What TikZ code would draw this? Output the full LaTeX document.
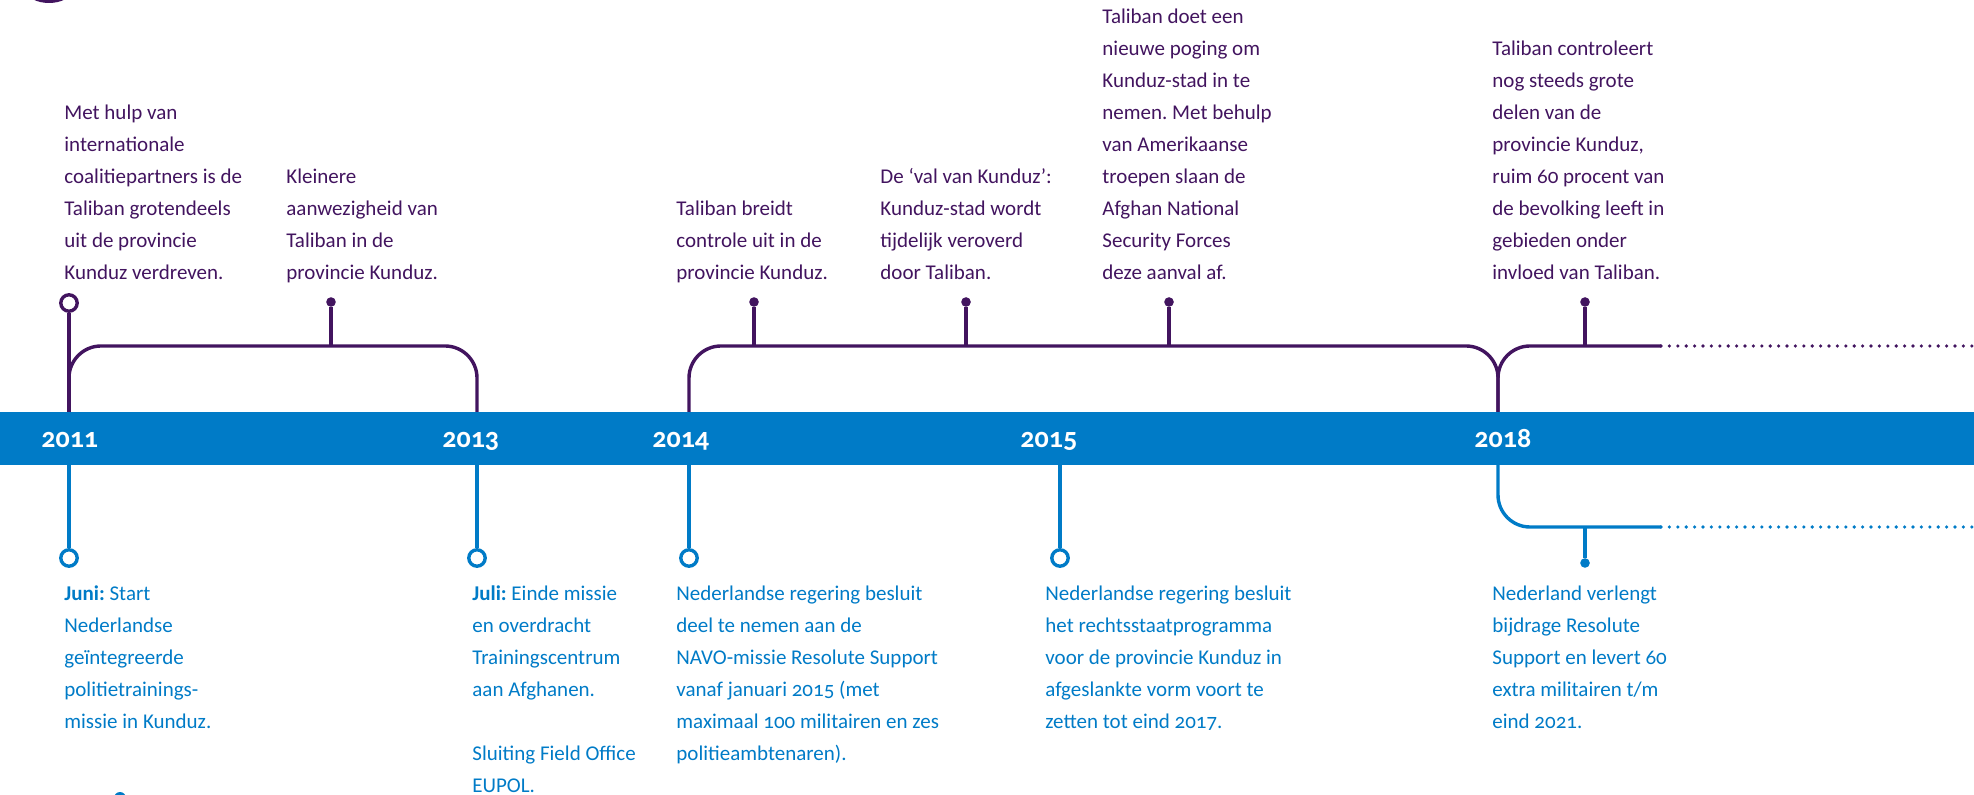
\documentclass[tikz,border=0pt]{standalone}
\usepackage{fontspec}
\setmainfont{Carlito}[Numbers=OldStyle]
\frenchspacing
\definecolor{rvblue}{HTML}{007BC7}
\definecolor{rvpurple}{HTML}{42145F}
\tikzset{
  events/.style={font=\fontsize{10.5}{16}\selectfont, anchor=base west, align=left, inner sep=0pt},
  topevent/.style={events, text=rvpurple},
  lowevent/.style={events, text=rvblue},
  yearlabel/.style={font=\fontsize{14}{16}\selectfont\bfseries, text=white, anchor=base west, inner sep=0pt},
  topline/.style={draw=rvpurple, line width=1.7pt},
  lowline/.style={draw=rvblue, line width=1.7pt},
  ringdot/.style={circle, draw=#1, fill=white, line width=1.7pt, minimum size=8.2pt, inner sep=0pt},
  tickdot/.style={circle, fill=#1, minimum size=4.8pt, inner sep=0pt},
  dotline/.style={line cap=round, dash pattern=on 0pt off 4.2pt, line width=1.8pt},
}
\begin{document}
\begin{tikzpicture}[x=0.5pt, y=-0.5pt]
	\useasboundingbox (0,0) rectangle (1974,795);
	\fill[rvpurple] (49,-10) ellipse [x radius=23, y radius=13];
	\fill[rvblue] (120,798) circle [radius=6];
	\fill[rvblue] (0,412) rectangle (1974,465);

	\node[yearlabel] (y2011) at (41,448) {2011};
	\node[yearlabel] (y2013) at (442,448) {2013};
	\node[yearlabel] (y2014) at (652,448) {2014};
	\node[yearlabel] (y2015) at (1020,448) {2015};
	\node[yearlabel] (y2018) at (1474,448) {2018};

	\coordinate (a2011) at (69,412);
	\coordinate (a2013) at (477,412);
	\coordinate (a2014) at (689,412);
	\coordinate (a2018) at (1498,412);
	\coordinate (z2011) at (69,465);
	\coordinate (z2013) at (477,465);
	\coordinate (z2014) at (689,465);
	\coordinate (z2015) at (1060,465);
	\coordinate (z2018) at (1498,465);

	\coordinate (k2012) at (331,346);
	\coordinate (k2014) at (754,346);
	\coordinate (k2015a) at (966,346);
	\coordinate (k2015b) at (1169,346);
	\coordinate (k2018) at (1585,346);
	\coordinate (e2018) at (1661,346);
	\coordinate (f2018) at (1980,346);
	\coordinate (m2018) at (1585,527);
	\coordinate (g2018) at (1661,527);
	\coordinate (h2018) at (1980,527);

	\node[ringdot=rvpurple] (r2011) at (69,303) {};
	\node[tickdot=rvpurple] (p2012) at (331,302) {};
	\node[tickdot=rvpurple] (p2014) at (754,302) {};
	\node[tickdot=rvpurple] (p2015a) at (966,302) {};
	\node[tickdot=rvpurple] (p2015b) at (1169,302) {};
	\node[tickdot=rvpurple] (p2018) at (1585,302) {};

	\node[ringdot=rvblue] (o2011) at (69,558) {};
	\node[ringdot=rvblue] (o2013) at (477,558) {};
	\node[ringdot=rvblue] (o2014) at (689,558) {};
	\node[ringdot=rvblue] (o2015) at (1060,558) {};
	\node[tickdot=rvblue] (q2018) at (1585,563) {};

	\node[topevent] (t2011) at (64,280) {Met hulp van\\internationale\\coalitiepartners is de\\Taliban grotendeels\\uit de provincie\\Kunduz verdreven.};
	\node[topevent] (t2012) at (286,280) {Kleinere\\aanwezigheid van\\Taliban in de\\provincie Kunduz.};
	\node[topevent] (t2014) at (676,280) {Taliban breidt\\controle uit in de\\provincie Kunduz.};
	\node[topevent] (t2015a) at (880,280) {De ‘val van Kunduz’:\\Kunduz-stad wordt\\tijdelijk veroverd\\door Taliban.};
	\node[topevent] (t2015b) at (1102,280) {Taliban doet een\\nieuwe poging om\\Kunduz-stad in te\\nemen. Met behulp\\van Amerikaanse\\troepen slaan de\\Afghan National\\Security Forces\\deze aanval af.};
	\node[topevent] (t2018) at (1492,280) {Taliban controleert\\nog steeds grote\\delen van de\\provincie Kunduz,\\ruim 60 procent van\\de bevolking leeft in\\gebieden onder\\invloed van Taliban.};

	\node[lowevent] (b2011) at (64,728) {\textbf{Juni:} Start\\Nederlandse\\geïntegreerde\\politietrainings-\\missie in Kunduz.};
	\node[lowevent] (b2013) at (472,792) {\textbf{Juli:} Einde missie\\en overdracht\\Trainingscentrum\\aan Afghanen.\\[16pt]Sluiting Field Office\\EUPOL.};
	\node[lowevent] (b2014) at (676,760) {Nederlandse regering besluit\\deel te nemen aan de\\NAVO-missie Resolute Support\\vanaf januari 2015 (met\\maximaal 100 militairen en zes\\politieambtenaren).};
	\node[lowevent] (b2015) at (1045,728) {Nederlandse regering besluit\\het rechtsstaatprogramma\\voor de provincie Kunduz in\\afgeslankte vorm voort te\\zetten tot eind 2017.};
	\node[lowevent] (b2018) at (1492,728) {Nederland verlengt\\bijdrage Resolute\\Support en levert 60\\extra militairen t/m\\eind 2021.};

	\path[topline] (r2011) edge (a2011)
	(p2012) edge (k2012)
	(p2014) edge (k2014)
	(p2015a) edge (k2015a)
	(p2015b) edge (k2015b)
	(p2018) edge (k2018);
	\draw[topline, rounded corners=16pt] (a2011) |- (k2012) -| (a2013);
	\draw[topline, rounded corners=16pt] (a2014) |- (k2014) -- (k2015a) -- (k2015b) -| (a2018);
	\draw[topline, rounded corners=16pt] (a2018) |- (k2018) -- (e2018);
	\draw[topline, dotline] (e2018) -- (f2018);

	\path[lowline] (z2011) edge (o2011)
	(z2013) edge (o2013)
	(z2014) edge (o2014)
	(z2015) edge (o2015)
	(m2018) edge (q2018);
	\draw[lowline, rounded corners=16pt] (z2018) |- (m2018) -- (g2018);
	\draw[lowline, dotline] (g2018) -- (h2018);
\end{tikzpicture}
\end{document}
